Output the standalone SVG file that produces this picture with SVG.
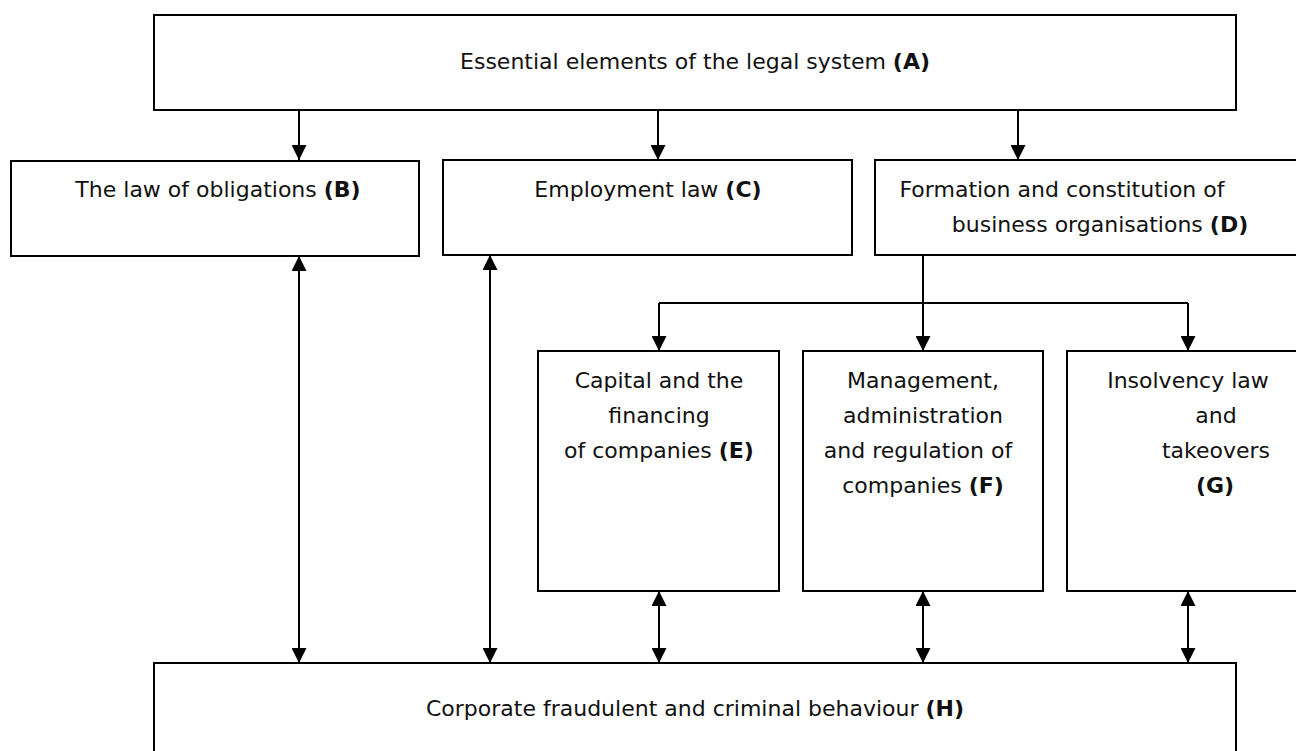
<svg xmlns="http://www.w3.org/2000/svg" width="1296" height="751" viewBox="0 0 1296 751">
<style>
.box{fill:#fff;stroke:#000;stroke-width:2}
.t{font-family:"DejaVu Sans","Liberation Sans",sans-serif;font-size:22px;fill:#111;text-anchor:middle}
.b{font-weight:bold}
.c{fill:none;stroke:#000;stroke-width:2}
</style>
<defs>
<marker id="ah" markerUnits="userSpaceOnUse" markerWidth="15" markerHeight="15" refX="15" refY="7.5" orient="auto-start-reverse" viewBox="0 0 15 15">
<path d="M0,0 L15,7.5 L0,15 z" fill="#000"/>
</marker>
</defs>
<rect width="1296" height="751" fill="#fff"/>
<g id="connectors">
<path class="c" d="M299,110 V160" marker-end="url(#ah)"/>
<path class="c" d="M658,110 V160" marker-end="url(#ah)"/>
<path class="c" d="M1018,110 V160" marker-end="url(#ah)"/>
<path class="c" d="M923,255 V303 M659,303 H1188"/>
<path class="c" d="M659,303 V351" marker-end="url(#ah)"/>
<path class="c" d="M923,303 V351" marker-end="url(#ah)"/>
<path class="c" d="M1188,303 V351" marker-end="url(#ah)"/>
<path class="c" d="M299,256 V663" marker-start="url(#ah)" marker-end="url(#ah)"/>
<path class="c" d="M490,255 V663" marker-start="url(#ah)" marker-end="url(#ah)"/>
<path class="c" d="M659,591 V663" marker-start="url(#ah)" marker-end="url(#ah)"/>
<path class="c" d="M923,591 V663" marker-start="url(#ah)" marker-end="url(#ah)"/>
<path class="c" d="M1188,591 V663" marker-start="url(#ah)" marker-end="url(#ah)"/>
</g>
<g id="A">
<rect class="box" x="154" y="15" width="1082" height="95"/>
<text class="t" x="695" y="69">Essential elements of the legal system <tspan class="b">(A)</tspan></text>
</g>
<g id="B">
<rect class="box" x="11" y="161" width="408" height="95"/>
<text class="t" x="218" y="197">The law of obligations <tspan class="b">(B)</tspan></text>
</g>
<g id="C">
<rect class="box" x="443" y="160" width="409" height="95"/>
<text class="t" x="648" y="197">Employment law <tspan class="b">(C)</tspan></text>
</g>
<g id="D">
<rect class="box" x="875" y="160" width="440" height="95"/>
<text class="t" x="1062" y="197">Formation and constitution of</text>
<text class="t" x="1100" y="232">business organisations <tspan class="b">(D)</tspan></text>
</g>
<g id="E">
<rect class="box" x="538" y="351" width="241" height="240"/>
<text class="t" x="659" y="388">Capital and the</text>
<text class="t" x="659" y="423">financing</text>
<text class="t" x="659" y="458">of companies <tspan class="b">(E)</tspan></text>
</g>
<g id="F">
<rect class="box" x="803" y="351" width="240" height="240"/>
<text class="t" x="923" y="388">Management,</text>
<text class="t" x="923" y="423">administration</text>
<text class="t" x="918" y="458">and regulation of</text>
<text class="t" x="923" y="493">companies <tspan class="b">(F)</tspan></text>
</g>
<g id="G">
<rect class="box" x="1067" y="351" width="250" height="240"/>
<text class="t" x="1188" y="388">Insolvency law</text>
<text class="t" x="1216" y="423">and</text>
<text class="t" x="1216" y="458">takeovers</text>
<text class="t b" x="1215" y="493">(G)</text>
</g>
<g id="H">
<rect class="box" x="154" y="663" width="1082" height="120"/>
<text class="t" x="695" y="716">Corporate fraudulent and criminal behaviour <tspan class="b">(H)</tspan></text>
</g>
</svg>
